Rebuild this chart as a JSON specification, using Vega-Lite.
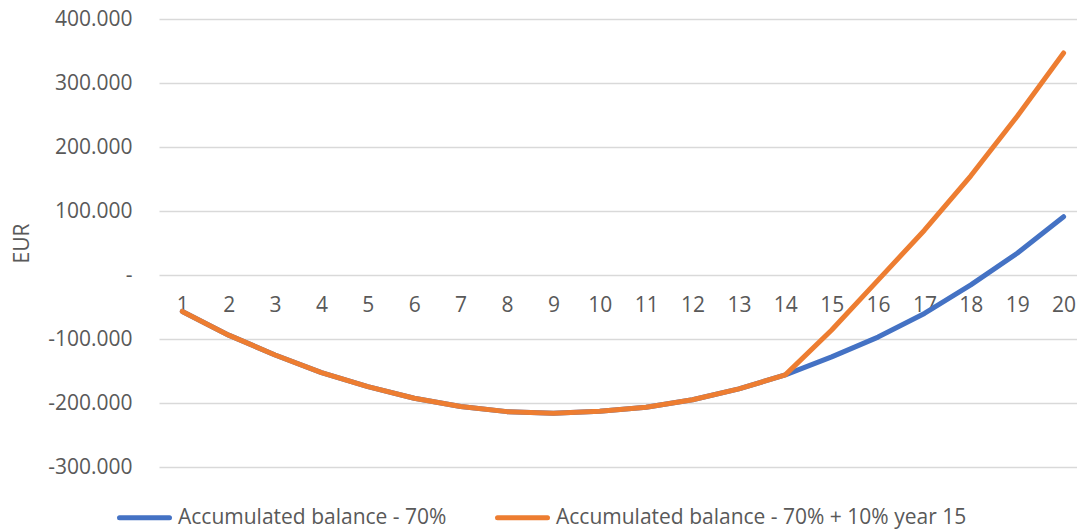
{
  "$schema": "https://vega.github.io/schema/vega-lite/v6.json",
  "autosize": "none",
  "width": 918,
  "height": 448,
  "padding": {"left": 159, "top": 19, "right": 0, "bottom": 64},
  "config": {
    "font": "Open Sans",
    "view": {"stroke": null},
    "locale": {
      "number": {"decimal": ",", "thousands": ".", "grouping": [3], "currency": ["", " €"], "minus": "-"}
    }
  },
  "data": {
    "values": [
      {"year": 1, "series": "Accumulated balance - 70%", "value": -57000},
      {"year": 2, "series": "Accumulated balance - 70%", "value": -94000},
      {"year": 3, "series": "Accumulated balance - 70%", "value": -125000},
      {"year": 4, "series": "Accumulated balance - 70%", "value": -152500},
      {"year": 5, "series": "Accumulated balance - 70%", "value": -174500},
      {"year": 6, "series": "Accumulated balance - 70%", "value": -192500},
      {"year": 7, "series": "Accumulated balance - 70%", "value": -205500},
      {"year": 8, "series": "Accumulated balance - 70%", "value": -213500},
      {"year": 9, "series": "Accumulated balance - 70%", "value": -216000},
      {"year": 10, "series": "Accumulated balance - 70%", "value": -213000},
      {"year": 11, "series": "Accumulated balance - 70%", "value": -206500},
      {"year": 12, "series": "Accumulated balance - 70%", "value": -195000},
      {"year": 13, "series": "Accumulated balance - 70%", "value": -178000},
      {"year": 14, "series": "Accumulated balance - 70%", "value": -156000},
      {"year": 15, "series": "Accumulated balance - 70%", "value": -128000},
      {"year": 16, "series": "Accumulated balance - 70%", "value": -97000},
      {"year": 17, "series": "Accumulated balance - 70%", "value": -60000},
      {"year": 18, "series": "Accumulated balance - 70%", "value": -15500},
      {"year": 19, "series": "Accumulated balance - 70%", "value": 34000},
      {"year": 20, "series": "Accumulated balance - 70%", "value": 91000},
      {"year": 1, "series": "Accumulated balance - 70% + 10% year 15", "value": -57000},
      {"year": 2, "series": "Accumulated balance - 70% + 10% year 15", "value": -94000},
      {"year": 3, "series": "Accumulated balance - 70% + 10% year 15", "value": -125000},
      {"year": 4, "series": "Accumulated balance - 70% + 10% year 15", "value": -152500},
      {"year": 5, "series": "Accumulated balance - 70% + 10% year 15", "value": -174500},
      {"year": 6, "series": "Accumulated balance - 70% + 10% year 15", "value": -192500},
      {"year": 7, "series": "Accumulated balance - 70% + 10% year 15", "value": -205500},
      {"year": 8, "series": "Accumulated balance - 70% + 10% year 15", "value": -213500},
      {"year": 9, "series": "Accumulated balance - 70% + 10% year 15", "value": -216000},
      {"year": 10, "series": "Accumulated balance - 70% + 10% year 15", "value": -213000},
      {"year": 11, "series": "Accumulated balance - 70% + 10% year 15", "value": -206500},
      {"year": 12, "series": "Accumulated balance - 70% + 10% year 15", "value": -195000},
      {"year": 13, "series": "Accumulated balance - 70% + 10% year 15", "value": -178000},
      {"year": 14, "series": "Accumulated balance - 70% + 10% year 15", "value": -156000},
      {"year": 15, "series": "Accumulated balance - 70% + 10% year 15", "value": -86000},
      {"year": 16, "series": "Accumulated balance - 70% + 10% year 15", "value": -8000},
      {"year": 17, "series": "Accumulated balance - 70% + 10% year 15", "value": 70000},
      {"year": 18, "series": "Accumulated balance - 70% + 10% year 15", "value": 155000},
      {"year": 19, "series": "Accumulated balance - 70% + 10% year 15", "value": 248000},
      {"year": 20, "series": "Accumulated balance - 70% + 10% year 15", "value": 347000}
    ]
  },
  "mark": {"type": "line", "strokeWidth": 5, "strokeCap": "round", "strokeJoin": "round"},
  "encoding": {
    "x": {
      "field": "year",
      "type": "ordinal",
      "scale": {"type": "point", "padding": 0.396, "align": 0.635},
      "axis": {
        "title": null,
        "labelAngle": 0,
        "domain": false,
        "ticks": false,
        "grid": false,
        "offset": -192,
        "labelPadding": 19,
        "labelFontSize": 21,
        "labelColor": "#595959"
      }
    },
    "y": {
      "field": "value",
      "type": "quantitative",
      "scale": {"domain": [-300000, 400000], "nice": false, "zero": false},
      "axis": {
        "title": "EUR",
        "values": [-300000, -200000, -100000, 0, 100000, 200000, 300000, 400000],
        "format": ",.0f",
        "labelExpr": "datum.value == 0 ? '-\u00a0\u00a0' : datum.label",
        "domain": false,
        "ticks": false,
        "labelPadding": 27,
        "labelFontSize": 21,
        "labelColor": "#595959",
        "gridColor": "#D9D9D9",
        "gridWidth": 1.3,
        "titleFontSize": 21,
        "titleFontWeight": "normal",
        "titleColor": "#595959",
        "titlePadding": 15
      }
    },
    "color": {
      "field": "series",
      "type": "nominal",
      "scale": {
        "domain": ["Accumulated balance - 70%", "Accumulated balance - 70% + 10% year 15"],
        "range": ["#4472C4", "#ED7D31"]
      },
      "legend": {
        "title": null,
        "orient": "none",
        "direction": "horizontal",
        "legendX": -42,
        "legendY": 471,
        "symbolType": "stroke",
        "symbolSize": 2500,
        "symbolStrokeWidth": 5,
        "labelFontSize": 21,
        "labelColor": "#595959",
        "labelLimit": 600,
        "labelOffset": 6,
        "columnPadding": 40,
        "encode": {"symbols": {"update": {"strokeCap": {"value": "round"}}}}
      }
    }
  }
}
